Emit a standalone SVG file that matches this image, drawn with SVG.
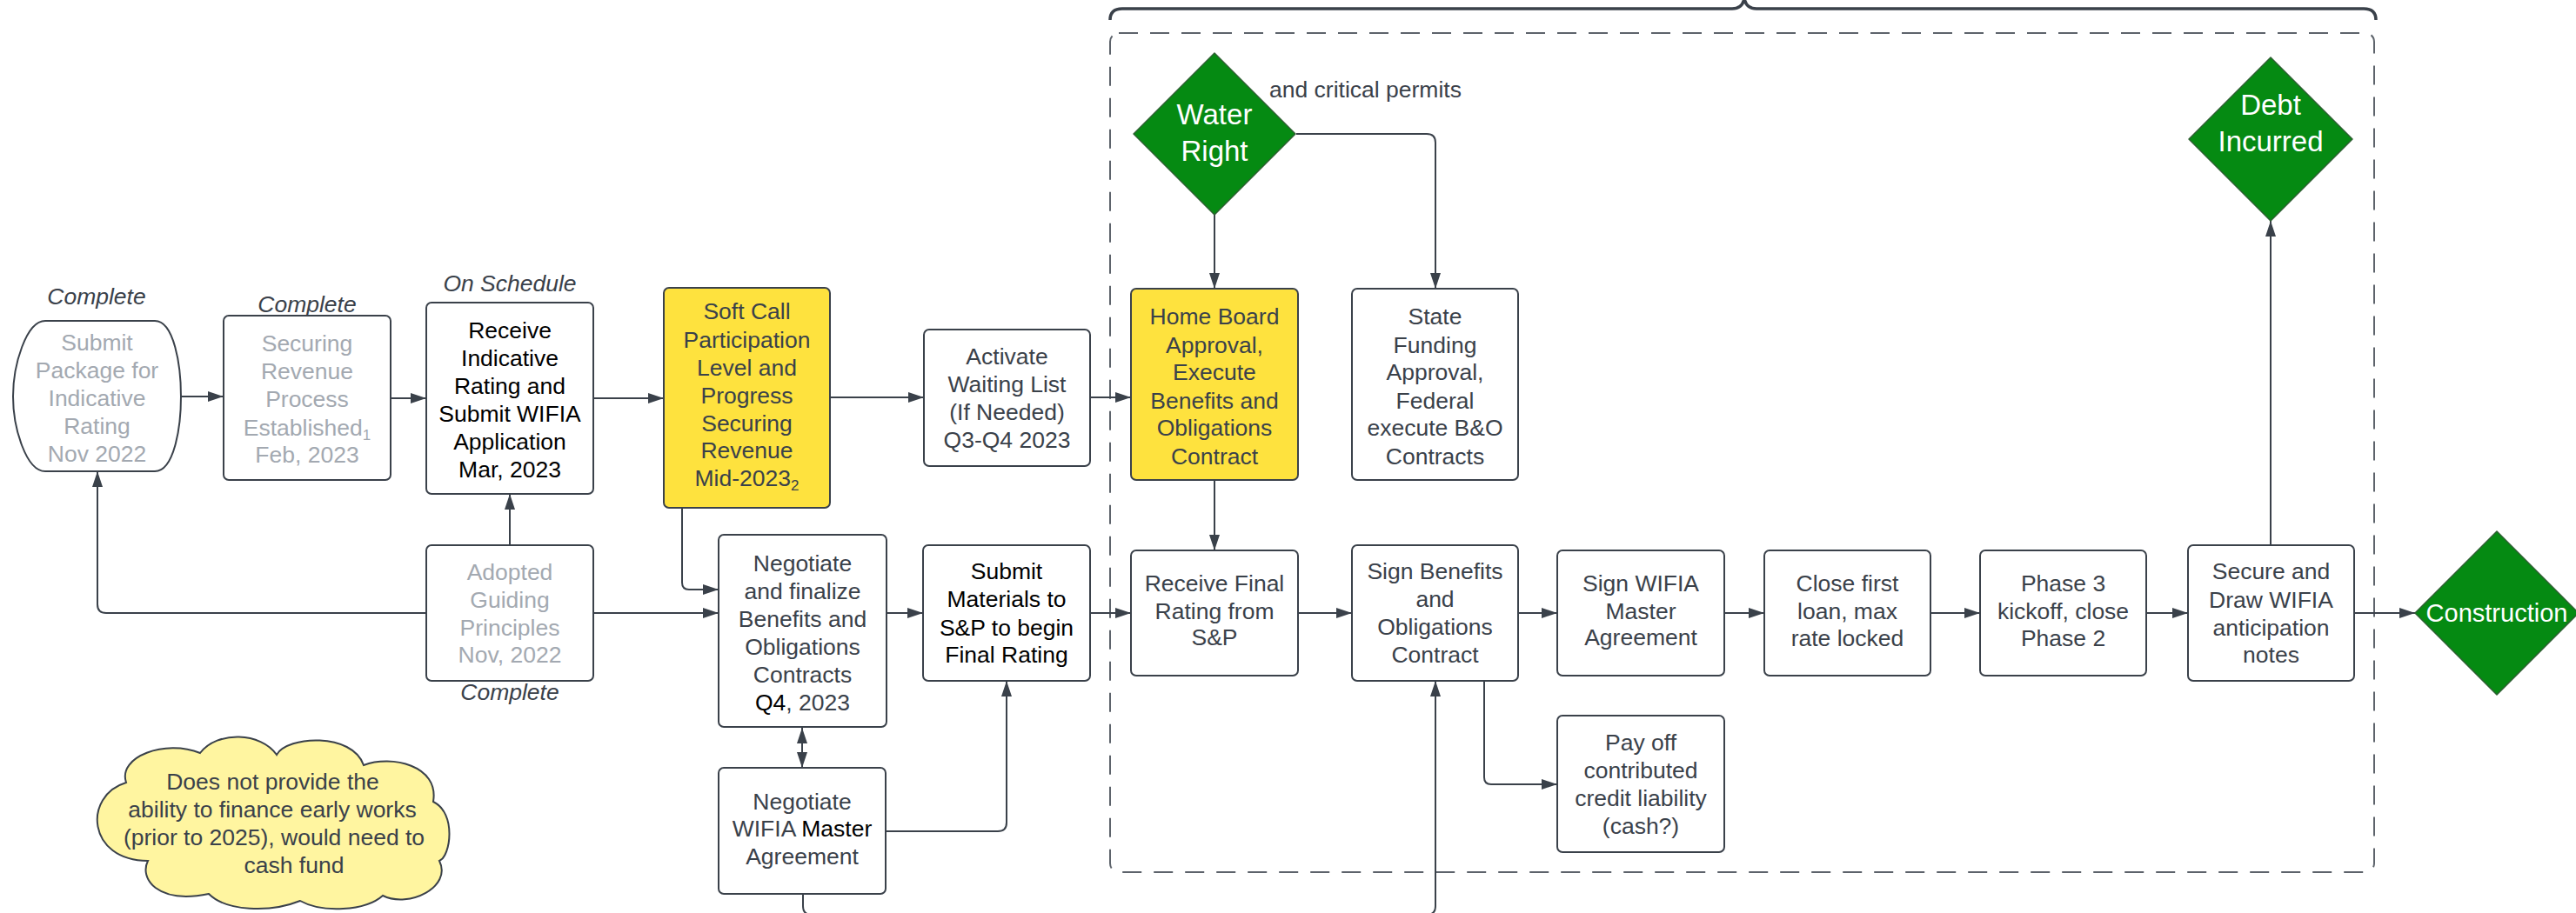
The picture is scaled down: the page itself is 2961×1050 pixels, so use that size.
<svg xmlns="http://www.w3.org/2000/svg" width="2961" height="1050" viewBox="0 0 2961 1050">
<style>
.box{fill:#fff;stroke:#3a414a;stroke-width:2}
.yel{fill:#fee23e;stroke:#3a414a;stroke-width:2}
.dia{fill:#058a12;stroke:#2f5f33;stroke-width:1.5;stroke-linejoin:round}
.cloud{fill:#fff5a0;stroke:#3a414a;stroke-width:2}
.t{font-family:"Liberation Sans",Arial,sans-serif;font-size:26.5px;fill:#3a414a;text-anchor:middle}
.g{fill:#a3a9b1}
.k{fill:#000}
.w{fill:#fff;font-size:33px}
.it{font-style:italic}
.c{fill:none;stroke:#3a414a;stroke-width:2}
.sub{font-size:17px}
</style>
<defs>
<marker id="ah" viewBox="0 0 18 12" refX="18" refY="6" markerWidth="18" markerHeight="12" markerUnits="userSpaceOnUse" orient="auto-start-reverse">
<path d="M0,0 L18,6 L0,12 Z" fill="#3a414a"/>
</marker>
</defs>
<rect width="2961" height="1050" fill="#fff"/>

<!-- container and brace -->
<g id="container">
<rect x="1276" y="38" width="1453" height="965" rx="10" fill="none" stroke="#5d636b" stroke-width="2" stroke-dasharray="22 14"/>
<path d="M1276,23 Q1276,10 1290,10 L1991,10 Q2003,10 2005,-2 Q2007,10 2019,10 L2717,10 Q2731,10 2731,23" fill="none" stroke="#3a414a" stroke-width="3.5"/>
</g>

<g id="connectors">
<path class="c" d="M208,456 L257,456" marker-end="url(#ah)"/>
<path class="c" d="M449,458 L490,458" marker-end="url(#ah)"/>
<path class="c" d="M682,458 L763,458" marker-end="url(#ah)"/>
<path class="c" d="M954,457 L1062,457" marker-end="url(#ah)"/>
<path class="c" d="M1253,457 L1300,457" marker-end="url(#ah)"/>
<path class="c" d="M586,627 L586,568" marker-end="url(#ah)"/>
<path class="c" d="M490,705 L122,705 Q112,705 112,695 L112,542" marker-end="url(#ah)"/>
<path class="c" d="M682,705 L826,705" marker-end="url(#ah)"/>
<path class="c" d="M784,584 L784,670 Q784,678 792,678 L826,678" marker-end="url(#ah)"/>
<path class="c" d="M922,837 L922,883" marker-start="url(#ah)" marker-end="url(#ah)"/>
<path class="c" d="M1019,705 L1061,705" marker-end="url(#ah)"/>
<path class="c" d="M1018,956 L1147,956 Q1157,956 1157,946 L1157,783" marker-end="url(#ah)"/>
<path class="c" d="M1253,705 L1300,705" marker-end="url(#ah)"/>
<path class="c" d="M1396,247 L1396,332" marker-end="url(#ah)"/>
<path class="c" d="M1490,154 L1640,154 Q1650,154 1650,164 L1650,332" marker-end="url(#ah)"/>
<path class="c" d="M1396,552 L1396,633" marker-end="url(#ah)"/>
<path class="c" d="M1492,705 L1554,705" marker-end="url(#ah)"/>
<path class="c" d="M1745,705 L1790,705" marker-end="url(#ah)"/>
<path class="c" d="M1706,783 L1706,894 Q1706,902 1714,902 L1790,902" marker-end="url(#ah)"/>
<path class="c" d="M1982,705 L2028,705" marker-end="url(#ah)"/>
<path class="c" d="M2219,705 L2276,705" marker-end="url(#ah)"/>
<path class="c" d="M2467,705 L2515,705" marker-end="url(#ah)"/>
<path class="c" d="M2610,627 L2610,254" marker-end="url(#ah)"/>
<path class="c" d="M2706,705 L2776,705" marker-end="url(#ah)"/>
<path class="c" d="M923,1028 L923,1042 Q923,1052 933,1052 L1640,1052 Q1650,1052 1650,1042 L1650,783" marker-end="url(#ah)"/>
</g>

<g id="n-submit-package">
<path class="box" d="M52,369 H178 C200,369 208,420 208,456 C208,492 200,542 178,542 H52 C30,542 15,492 15,456 C15,420 30,369 52,369 Z"/>
<text class="t g"><tspan x="111.5" y="403">Submit</tspan><tspan x="111.5" y="435">Package for</tspan><tspan x="111.5" y="467">Indicative</tspan><tspan x="111.5" y="499">Rating</tspan><tspan x="111.5" y="531">Nov 2022</tspan></text>
<text class="t it" x="111" y="350">Complete</text>
</g>

<g id="n-securing-revenue">
<rect class="box" x="257" y="363" width="192" height="189" rx="6"/>
<text class="t g"><tspan x="353" y="404">Securing</tspan><tspan x="353" y="436">Revenue</tspan><tspan x="353" y="468">Process</tspan><tspan x="353" y="501">Established<tspan class="sub" dy="5">1</tspan></tspan><tspan x="353" y="532">Feb, 2023</tspan></text>
<text class="t it" x="353" y="359">Complete</text>
</g>

<g id="n-receive-indicative">
<rect class="box" x="490" y="348" width="192" height="220" rx="6"/>
<text class="t k"><tspan x="586" y="389">Receive</tspan><tspan x="586" y="421">Indicative</tspan><tspan x="586" y="453">Rating and</tspan><tspan x="586" y="485">Submit WIFIA</tspan><tspan x="586" y="517">Application</tspan><tspan x="586" y="549">Mar, 2023</tspan></text>
<text class="t it" x="586" y="335">On Schedule</text>
</g>

<g id="n-soft-call">
<rect class="yel" x="763" y="331" width="191" height="253" rx="6"/>
<text class="t"><tspan x="858.5" y="367">Soft Call</tspan><tspan x="858.5" y="400">Participation</tspan><tspan x="858.5" y="432">Level and</tspan><tspan x="858.5" y="464">Progress</tspan><tspan x="858.5" y="496">Securing</tspan><tspan x="858.5" y="527">Revenue</tspan><tspan x="858.5" y="559">Mid-2023<tspan class="sub" dy="5">2</tspan></tspan></text>
</g>

<g id="n-activate">
<rect class="box" x="1062" y="379" width="191" height="157" rx="6"/>
<text class="t"><tspan x="1157.5" y="419">Activate</tspan><tspan x="1157.5" y="451">Waiting List</tspan><tspan x="1157.5" y="483">(If Needed)</tspan><tspan x="1157.5" y="515">Q3-Q4 2023</tspan></text>
</g>

<g id="n-adopted">
<rect class="box" x="490" y="627" width="192" height="156" rx="6"/>
<text class="t g"><tspan x="586" y="667">Adopted</tspan><tspan x="586" y="699">Guiding</tspan><tspan x="586" y="731">Principles</tspan><tspan x="586" y="762">Nov, 2022</tspan></text>
<text class="t it" x="586" y="805">Complete</text>
</g>

<g id="n-negotiate-bo">
<rect class="box" x="826" y="615" width="193" height="221" rx="6"/>
<text class="t"><tspan x="922.5" y="657">Negotiate</tspan><tspan x="922.5" y="689">and finalize</tspan><tspan x="922.5" y="721">Benefits and</tspan><tspan x="922.5" y="753">Obligations</tspan><tspan x="922.5" y="785">Contracts</tspan><tspan x="922.5" y="817"><tspan class="k">Q4</tspan>, 2023</tspan></text>
</g>

<g id="n-negotiate-wifia">
<rect class="box" x="826" y="883" width="192" height="145" rx="6"/>
<text class="t"><tspan x="922" y="931">Negotiate</tspan><tspan x="922" y="962">WIFIA <tspan class="k">Master</tspan></tspan><tspan x="922" y="994">Agreement</tspan></text>
</g>

<g id="n-submit-materials">
<rect class="box" x="1061" y="627" width="192" height="156" rx="6"/>
<text class="t k"><tspan x="1157" y="666">Submit</tspan><tspan x="1157" y="698">Materials to</tspan><tspan x="1157" y="731">S&amp;P to begin</tspan><tspan x="1157" y="762">Final Rating</tspan></text>
</g>

<g id="n-water-right">
<path class="dia" d="M1396,61 L1489,154 L1396,247 L1303,154 Z"/>
<text class="t w"><tspan x="1396" y="143">Water</tspan><tspan x="1396" y="185">Right</tspan></text>
<text class="t" x="1459" y="112" style="text-anchor:start">and critical permits</text>
</g>

<g id="n-home-board">
<rect class="yel" x="1300" y="332" width="192" height="220" rx="6"/>
<text class="t"><tspan x="1396" y="373">Home Board</tspan><tspan x="1396" y="406">Approval,</tspan><tspan x="1396" y="437">Execute</tspan><tspan x="1396" y="470">Benefits and</tspan><tspan x="1396" y="501">Obligations</tspan><tspan x="1396" y="534">Contract</tspan></text>
</g>

<g id="n-state-funding">
<rect class="box" x="1554" y="332" width="191" height="220" rx="6"/>
<text class="t"><tspan x="1649.5" y="373">State</tspan><tspan x="1649.5" y="406">Funding</tspan><tspan x="1649.5" y="437">Approval,</tspan><tspan x="1649.5" y="470">Federal</tspan><tspan x="1649.5" y="501">execute B&amp;O</tspan><tspan x="1649.5" y="534">Contracts</tspan></text>
</g>

<g id="n-receive-final">
<rect class="box" x="1300" y="633" width="192" height="144" rx="6"/>
<text class="t"><tspan x="1396" y="680">Receive Final</tspan><tspan x="1396" y="712">Rating from</tspan><tspan x="1396" y="742">S&amp;P</tspan></text>
</g>

<g id="n-sign-bo">
<rect class="box" x="1554" y="627" width="191" height="156" rx="6"/>
<text class="t"><tspan x="1649.5" y="666">Sign Benefits</tspan><tspan x="1649.5" y="698">and</tspan><tspan x="1649.5" y="730">Obligations</tspan><tspan x="1649.5" y="762">Contract</tspan></text>
</g>

<g id="n-sign-wifia">
<rect class="box" x="1790" y="633" width="192" height="144" rx="6"/>
<text class="t"><tspan x="1886" y="680">Sign WIFIA</tspan><tspan x="1886" y="712">Master</tspan><tspan x="1886" y="742">Agreement</tspan></text>
</g>

<g id="n-pay-off">
<rect class="box" x="1790" y="823" width="192" height="157" rx="6"/>
<text class="t"><tspan x="1886" y="863">Pay off</tspan><tspan x="1886" y="895">contributed</tspan><tspan x="1886" y="927">credit liability</tspan><tspan x="1886" y="959">(cash?)</tspan></text>
</g>

<g id="n-close-first">
<rect class="box" x="2028" y="633" width="191" height="144" rx="6"/>
<text class="t"><tspan x="2123.5" y="680">Close first</tspan><tspan x="2123.5" y="712">loan, max</tspan><tspan x="2123.5" y="743">rate locked</tspan></text>
</g>

<g id="n-phase3">
<rect class="box" x="2276" y="633" width="191" height="144" rx="6"/>
<text class="t"><tspan x="2371.5" y="680">Phase 3</tspan><tspan x="2371.5" y="712">kickoff, close</tspan><tspan x="2371.5" y="743">Phase 2</tspan></text>
</g>

<g id="n-secure-draw">
<rect class="box" x="2515" y="627" width="191" height="156" rx="6"/>
<text class="t"><tspan x="2610.5" y="666">Secure and</tspan><tspan x="2610.5" y="699">Draw WIFIA</tspan><tspan x="2610.5" y="731">anticipation</tspan><tspan x="2610.5" y="762">notes</tspan></text>
</g>

<g id="n-debt-incurred">
<path class="dia" d="M2610,66 L2704,160 L2610,254 L2516,160 Z"/>
<text class="t w"><tspan x="2610" y="132">Debt</tspan><tspan x="2610" y="174">Incurred</tspan></text>
</g>

<g id="n-construction">
<path class="dia" d="M2870,611 L2964,705 L2870,799 L2776,705 Z"/>
<text class="t w" x="2870" y="715" style="font-size:29px">Construction</text>
</g>

<g id="n-cloud">
<path class="cloud" d="M145,900 C135,870 190,850 230,866 C250,840 300,842 318,868 C330,846 405,842 418,880 C450,868 505,880 498,922 C525,935 518,985 505,990 C520,1020 470,1045 440,1030 C420,1048 370,1050 345,1036 C310,1050 260,1048 240,1028 C180,1040 160,1010 170,990 C100,990 95,915 145,900 Z"/>
<text class="t"><tspan x="313.5" y="908">Does not provide the</tspan><tspan x="313" y="940">ability to finance early works</tspan><tspan x="315" y="972">(prior to 2025), would need to</tspan><tspan x="338" y="1004">cash fund</tspan></text>
</g>
</svg>
